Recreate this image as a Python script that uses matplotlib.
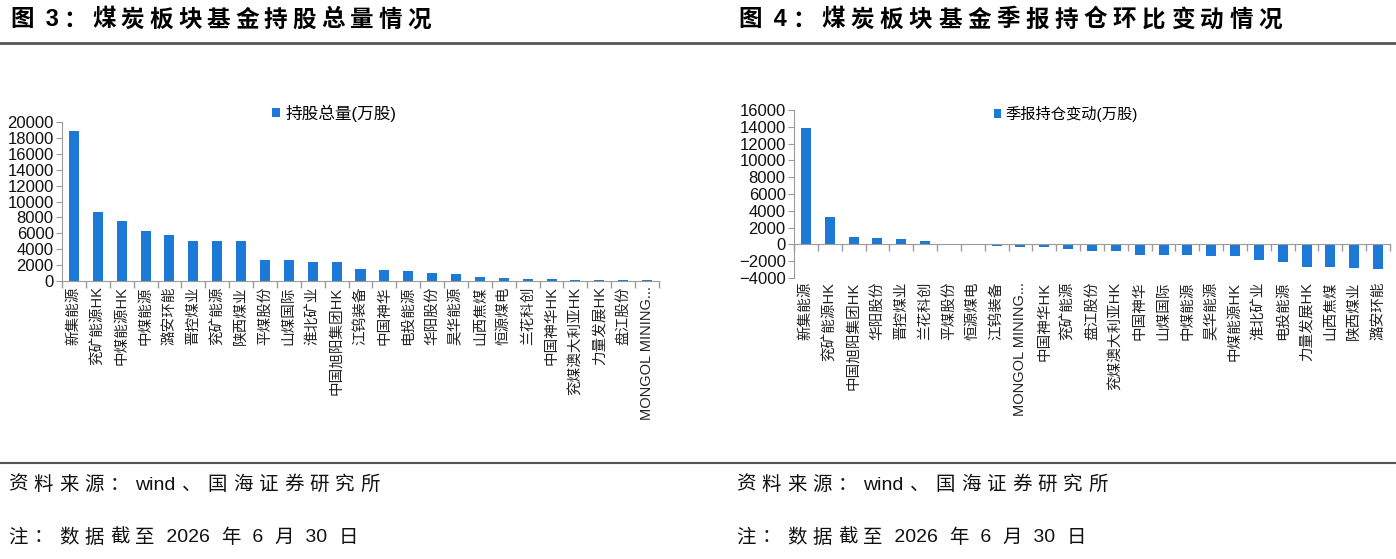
import re
import matplotlib
matplotlib.use('Agg')
import matplotlib.pyplot as plt
from matplotlib.lines import Line2D
import numpy as np

plt.rcParams['font.family'] = ['Liberation Sans', 'Noto Sans CJK SC']

# 图3 data: fund holdings (万股)
holding_names = ['新集能源', '兖矿能源HK', '中煤能源HK', '中煤能源', '潞安环能', '晋控煤业',
                 '兖矿能源', '陕西煤业', '平煤股份', '山煤国际', '淮北矿业', '中国旭阳集团HK',
                 '江钨装备', '中国神华', '电投能源', '华阳股份', '昊华能源', '山西焦煤',
                 '恒源煤电', '兰花科创', '中国神华HK', '兖煤澳大利亚HK', '力量发展HK',
                 '盘江股份', 'MONGOL MINING...']
holding_values = [18900, 8650, 7600, 6250, 5800, 5000, 5000, 5000, 2650, 2650, 2450, 2350,
                  1470, 1390, 1260, 970, 880, 550, 420, 300, 300, 170, 170, 170, 170]

# 图4 data: quarter-on-quarter change (万股)
change_names = ['新集能源', '兖矿能源HK', '中国旭阳集团HK', '华阳股份', '晋控煤业', '兰花科创',
                '平煤股份', '恒源煤电', '江钨装备', 'MONGOL MINING...', '中国神华HK', '兖矿能源',
                '盘江股份', '兖煤澳大利亚HK', '中国神华', '山煤国际', '中煤能源', '昊华能源',
                '中煤能源HK', '淮北矿业', '电投能源', '力量发展HK', '山西焦煤', '陕西煤业',
                '潞安环能']
change_values = [13900, 3300, 920, 800, 600, 400, 20, 20, -160, -280, -360, -600,
                 -790, -790, -1230, -1230, -1230, -1430, -1430, -1870, -2100, -2700,
                 -2700, -2820, -2940]

BLUE = '#1c7ad6'
GREY = '#9a9a9a'
W, H = 1396, 559

fig = plt.figure(figsize=(W / 100, H / 100), dpi=100)


def px_box(l, t, r, b):
    return [l / W, 1 - b / H, (r - l) / W, (b - t) / H]


def spaced_text(x, y, s, gap, **kw):
    # draw text token by token so CJK characters get extra letter spacing
    r = fig.canvas.get_renderer()
    for tok in re.findall(r'[ -~]+|.', s):
        t = fig.text(x / W, 1 - y / H, tok, va='center', ha='left', **kw)
        w = t.get_window_extent(r).width
        x += w + gap


def style_axis(ax, names, pad):
    x = np.arange(len(names))
    ax.set_xlim(-0.5, len(names) - 0.5)
    ax.set_xticks(x)
    ax.set_xticklabels(names, rotation=90, fontsize=10.5, color='#222')
    ax.set_xticks(np.arange(len(names) + 1) - 0.5, minor=True)
    ax.tick_params(axis='x', which='major', length=0, pad=pad)
    ax.tick_params(axis='x', which='minor', length=5, color=GREY, width=1)
    ax.tick_params(axis='y', length=4, color=GREY, labelsize=12, pad=2, labelcolor='#111')
    for s in ['top', 'right']:
        ax.spines[s].set_visible(False)
    ax.spines['left'].set_color(GREY)
    ax.spines['bottom'].set_color(GREY)


# left chart
ax1 = fig.add_axes(px_box(62, 122, 659, 281))
ax1.bar(np.arange(len(holding_names)), holding_values, width=0.42, color=BLUE,
        label='持股总量(万股)')
ax1.set_ylim(0, 20000)
ax1.set_yticks(np.arange(0, 20001, 2000))
style_axis(ax1, holding_names, 4)
ax1.legend(loc='center left', bbox_to_anchor=(272 / W, 1 - 113 / H), bbox_transform=fig.transFigure,
           frameon=False, fontsize=12, handlelength=0.45, handleheight=0.45,
           handletextpad=0.35, borderpad=0, borderaxespad=0)

# right chart
ax2 = fig.add_axes(px_box(794, 110, 1390, 278))
ax2.spines['bottom'].set_position(('data', 0))
ax2.bar(np.arange(len(change_names)), change_values, width=0.42, color=BLUE,
        label='季报持仓变动(万股)')
ax2.set_ylim(-4000, 16000)
ax2.set_yticks(np.arange(-4000, 16001, 2000))
style_axis(ax2, change_names, 27)
ax2.legend(loc='center left', bbox_to_anchor=(994 / W, 1 - 114 / H), bbox_transform=fig.transFigure,
           frameon=False, fontsize=11, handlelength=0.45, handleheight=0.45,
           handletextpad=0.3, borderpad=0, borderaxespad=0)

# titles and rules
spaced_text(10, 20, '图 3：煤炭板块基金持股总量情况', 5, fontsize=17, fontweight='bold')
spaced_text(738, 20, '图 4：煤炭板块基金季报持仓环比变动情况', 5.5, fontsize=17, fontweight='bold')
fig.add_artist(Line2D([0, 1], [1 - 43 / H] * 2, transform=fig.transFigure, color='#555', lw=2))
fig.add_artist(Line2D([0, 1], [1 - 463 / H] * 2, transform=fig.transFigure, color='#555', lw=1.5))

for x0 in (8, 736):
    spaced_text(x0, 485, '资料来源：wind、国海证券研究所', 6, fontsize=14, color='#111')
    spaced_text(x0, 538, '注：数据截至 2026 年 6 月 30 日', 6, fontsize=14, color='#111')

fig.savefig('out.png', dpi=100)
